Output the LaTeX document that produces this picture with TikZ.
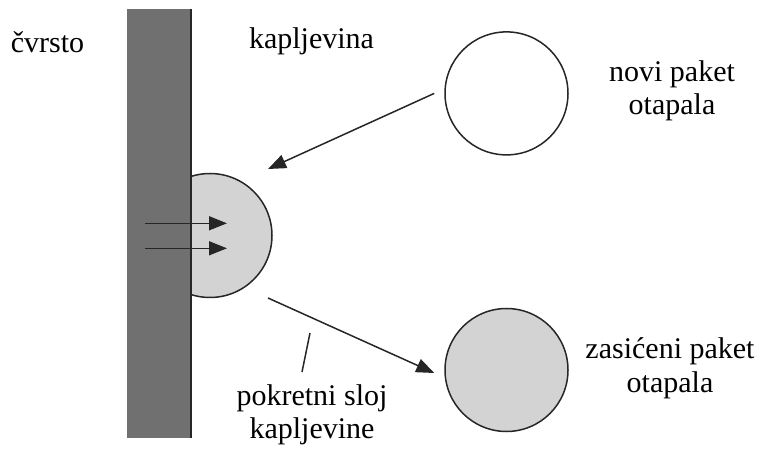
\documentclass[tikz,border=0pt]{standalone}
\usepackage{fontspec}
\setmainfont{Liberation Serif}
\usetikzlibrary{arrows.meta}
\definecolor{wallgray}{RGB}{112,112,112}
\definecolor{filmgray}{RGB}{211,211,211}
\definecolor{linegray}{RGB}{38,38,38}

\begin{document}
\begin{tikzpicture}[x=1pt, y=1pt,
  packet/.style={circle, draw=linegray, line width=1.5pt, minimum size=123pt, inner sep=0pt},
  flow/.style={draw=linegray, line width=1.5pt, -{Triangle[length=18pt, width=14pt]}},
  txt/.style={font=\fontsize{30}{33}\selectfont, align=center, inner sep=0pt}]
\useasboundingbox (0, 0) rectangle (763, 450);
% moving layer first, the wall covers its left half
\node[packet, fill=filmgray, minimum size=124pt] (sloj) at (210, 214.5) {};
\fill[wallgray] (127, 12) rectangle (191, 440.5);
\draw[linegray, line width=1.5pt] (191, 12) -- (191, 440.5);
\foreach \dy in {12.2, -12.8}
  \draw[flow] ([shift={(-65, \dy)}]sloj.center) -- ++(82, 0);
% solute packets
\node[packet, fill=white] (novi) at (506.5, 356.6) {};
\node[packet, fill=filmgray] (zasiceni) at (506.5, 80) {};
\coordinate (tipA) at ([shift={(58, 66.5)}]sloj.center);
\coordinate (startB) at ([shift={(58, -62.5)}]sloj.center);
\draw[flow] ([xshift=-10pt]novi.west) -- (tipA);
\draw[flow] (startB) -- ([shift={(-10, -3)}]zasiceni.west);
% labels (base = last line)
\node[txt, anchor=base] (cvrsto) at (47.5, 397) {čvrsto};
\node[txt, anchor=base] (kapljevina) at (311.5, 401) {kapljevina};
\node[txt, anchor=base] (novi-txt) at (672, 335) {novi paket\\otapala};
\node[txt, anchor=base] (zasiceni-txt) at (670, 58) {zasićeni paket\\otapala};
\node[txt, anchor=base] (sloj-txt) at (312, 12) {pokretni sloj\\kapljevine};
\coordinate (pointer) at (310, 117);
\draw[linegray, line width=1.5pt] (pointer) -- ([shift={(-10, 12)}]sloj-txt.north);
\end{tikzpicture}
\end{document}
